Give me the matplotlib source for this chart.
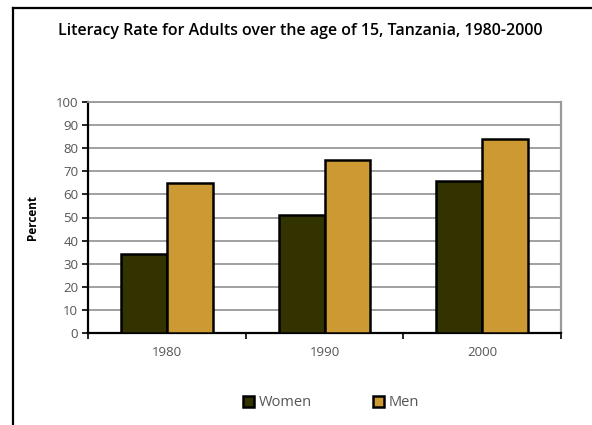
import numpy as np
import matplotlib
matplotlib.use("Agg")
import matplotlib.pyplot as plt
from matplotlib.lines import Line2D

years = ["1980", "1990", "2000"]
women = [34, 51, 66]
men = [65, 75, 84]
yticks = list(range(0, 101, 10))

WOMEN_COLOR = "#333300"
MEN_COLOR = "#cc9933"

plt.rcParams["font.family"] = ["Open Sans", "DejaVu Sans"]

fig = plt.figure(figsize=(5.92, 4.25), dpi=100)
ax = fig.add_axes([88 / 592, 92 / 425, 473 / 592, 231 / 425])

x = np.arange(len(years))
w = 0.29
ax.bar(x - w / 2, women, w, color=WOMEN_COLOR, edgecolor="black", linewidth=1.8,
       label="Women", zorder=3)
ax.bar(x + w / 2, men, w, color=MEN_COLOR, edgecolor="black", linewidth=1.8,
       label="Men", zorder=3)

ax.set_xlim(-0.5, len(years) - 0.5)
ax.set_ylim(0, 100)
ax.set_yticks(yticks)
ax.set_yticklabels([str(t) for t in yticks], color="#555555", fontsize=9.5)

# category labels centred, ticks at the group boundaries
ax.set_xticks(x)
ax.set_xticklabels(years, color="#555555", fontsize=9.5)
ax.tick_params(axis="x", length=0, pad=9)
ax.set_xticks(np.arange(len(years) + 1) - 0.5, minor=True)
ax.tick_params(axis="x", which="minor", length=4, width=1.2, color="black", direction="out")
ax.tick_params(axis="y", length=4, width=1.2, color="black", direction="out", pad=3)

ax.grid(axis="y", color="#999999", linewidth=1.3, zorder=0)
ax.set_axisbelow(True)

ax.spines["left"].set_color("black")
ax.spines["left"].set_linewidth(1.6)
ax.spines["bottom"].set_color("black")
ax.spines["bottom"].set_linewidth(1.6)
ax.spines["top"].set_color("#999999")
ax.spines["top"].set_linewidth(1.3)
ax.spines["right"].set_color("#999999")
ax.spines["right"].set_linewidth(1.6)

ax.set_ylabel("Percent", fontsize=8.5, fontweight="bold", labelpad=12)

fig.text(300 / 592, 1 - 31 / 425,
         "Literacy Rate for Adults over the age of 15, Tanzania, 1980-2000",
         ha="center", va="center", fontsize=11.5, fontweight="semibold")

fig.legend(loc="center", bbox_to_anchor=(331 / 592, 1 - 403 / 425), ncol=2,
           frameon=False, fontsize=10.5, handlelength=0.75, handleheight=0.75,
           handletextpad=0.3, columnspacing=4.2, labelcolor="#555555")

# frame lines along the top and left edge
fig.add_artist(Line2D([13 / 592, 1.0], [1 - 8 / 425, 1 - 8 / 425],
                      transform=fig.transFigure, color="black", linewidth=1.6))
fig.add_artist(Line2D([13 / 592, 13 / 592], [0.0, 1 - 8 / 425],
                      transform=fig.transFigure, color="black", linewidth=1.6))

fig.savefig("out.png", dpi=100)
